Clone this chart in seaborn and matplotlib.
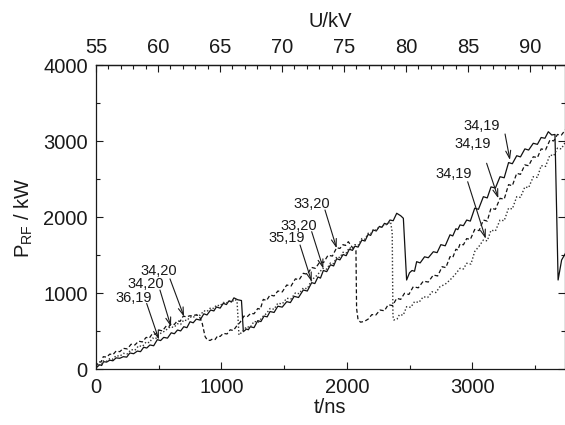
import numpy as np
import pandas as pd
import matplotlib
matplotlib.use("Agg")
import matplotlib.pyplot as plt
from matplotlib.ticker import MultipleLocator
import seaborn as sns

# ---------------- data, (t in ns, P in kW) ----------------
solid = [(0, 20), (30, 60), (45, 50), (60, 100), (85, 95), (110, 120), (135, 112), (160, 150),
         (190, 145), (218, 166), (245, 160), (270, 215), (300, 205), (330, 240), (355, 232),
         (380, 290), (405, 280), (430, 320), (460, 310), (489, 390), (515, 378), (540, 420),
         (570, 410), (600, 480), (625, 468), (650, 517), (675, 505), (700, 560), (725, 548),
         (750, 626), (775, 612), (800, 660), (830, 648), (860, 730), (885, 715), (914, 780),
         (940, 768), (960, 820), (990, 805), (1015, 868), (1040, 852), (1060, 900), (1080, 885),
         (1100, 940), (1130, 915), (1160, 905), (1175, 495), (1200, 530), (1215, 520),
         (1230, 560), (1260, 548), (1290, 640), (1315, 628), (1340, 700), (1365, 690),
         (1388, 760), (1420, 748), (1450, 830), (1485, 818), (1521, 890), (1550, 878),
         (1580, 960), (1615, 945), (1653, 1043), (1685, 1030), (1720, 1140), (1745, 1128),
         (1770, 1215), (1790, 1200), (1813, 1300), (1840, 1285), (1870, 1375), (1895, 1360),
         (1919, 1455), (1945, 1440), (1970, 1510), (1995, 1495), (2020, 1580), (2045, 1565),
         (2065, 1620), (2090, 1608), (2120, 1700), (2145, 1688), (2170, 1775), (2190, 1762),
         (2211, 1833), (2235, 1820), (2260, 1880), (2280, 1868), (2300, 1920), (2322, 1908),
         (2344, 1964), (2370, 1955), (2398, 2053), (2430, 2020), (2451, 1987), (2477, 1175),
         (2500, 1270), (2520, 1300), (2540, 1290), (2557, 1416), (2585, 1400), (2620, 1480),
         (2650, 1468), (2690, 1547), (2720, 1535), (2750, 1640), (2785, 1625), (2823, 1770),
         (2845, 1755), (2870, 1850), (2885, 1838), (2903, 1900), (2930, 1890), (2956, 1964),
         (2985, 1950), (3020, 2120), (3050, 2105), (3089, 2271), (3120, 2255), (3150, 2400),
         (3185, 2385), (3222, 2534), (3255, 2520), (3290, 2720), (3320, 2705), (3355, 2810),
         (3385, 2795), (3420, 2900), (3450, 2885), (3487, 2974), (3520, 2960), (3550, 3050),
         (3580, 3040), (3607, 3126), (3634, 3083), (3660, 3090), (3685, 1175), (3713, 1438),
         (3745, 1530)]

dashed = [(0, 30), (20, 100), (40, 95), (58, 166), (85, 160), (110, 200), (135, 192), (160, 240),
          (190, 232), (218, 276), (250, 268), (280, 330), (310, 320), (340, 370), (370, 360),
          (400, 420), (425, 410), (450, 470), (475, 460), (502, 517), (530, 505), (560, 570),
          (580, 560), (600, 600), (625, 590), (649, 640), (670, 630), (696, 700), (720, 690),
          (750, 705), (770, 700), (790, 714), (820, 710), (845, 620), (870, 430), (888, 385),
          (910, 380), (930, 400), (950, 392), (970, 440), (990, 432), (1015, 473), (1045, 465),
          (1070, 520), (1095, 510), (1122, 570), (1150, 620), (1180, 700), (1205, 690),
          (1234, 737), (1260, 730), (1290, 800), (1310, 790), (1334, 920), (1360, 905),
          (1388, 978), (1420, 965), (1450, 1030), (1485, 1018), (1521, 1109), (1555, 1095),
          (1590, 1190), (1620, 1178), (1653, 1263), (1685, 1250), (1720, 1340), (1750, 1328),
          (1786, 1416), (1815, 1405), (1850, 1500), (1885, 1490), (1919, 1600), (1945, 1590),
          (1970, 1640), (1990, 1630), (2012, 1679), (2050, 1590), (2073, 1560), (2078, 800),
          (2090, 650), (2110, 620), (2140, 630), (2170, 660), (2200, 720), (2230, 712),
          (2265, 780), (2300, 770), (2330, 850), (2365, 838), (2398, 934), (2430, 920),
          (2460, 1000), (2495, 985), (2530, 1087), (2570, 1072), (2610, 1160), (2650, 1148),
          (2690, 1241), (2725, 1228), (2760, 1350), (2790, 1338), (2823, 1482), (2845, 1470),
          (2870, 1580), (2885, 1568), (2903, 1650), (2930, 1638), (2956, 1720), (2985, 1708),
          (3020, 1840), (3055, 1825), (3089, 1964), (3120, 1950), (3150, 2120), (3185, 2105),
          (3222, 2250), (3255, 2238), (3290, 2430), (3320, 2415), (3355, 2579), (3385, 2565),
          (3420, 2690), (3450, 2678), (3487, 2797), (3520, 2785), (3550, 2900), (3585, 2888),
          (3620, 3017), (3650, 3005), (3680, 3090), (3710, 3080), (3745, 3155)]

dotted = [(0, 20), (30, 70), (45, 65), (58, 110), (85, 105), (110, 140), (135, 133), (160, 180),
          (190, 172), (218, 210), (250, 202), (280, 260), (310, 250), (340, 310), (370, 300),
          (400, 360), (425, 350), (450, 410), (475, 400), (500, 460), (545, 500), (593, 561),
          (620, 550), (650, 600), (675, 590), (700, 650), (725, 640), (750, 690), (775, 680),
          (800, 720), (830, 710), (860, 770), (885, 760), (914, 810), (940, 800), (960, 845),
          (990, 835), (1015, 880), (1040, 870), (1060, 900), (1085, 892), (1110, 920),
          (1125, 890), (1140, 451), (1170, 500), (1201, 561), (1230, 552), (1260, 630),
          (1295, 620), (1334, 700), (1360, 735), (1388, 800), (1420, 790), (1450, 870),
          (1485, 860), (1521, 935), (1555, 925), (1590, 1005), (1620, 995), (1653, 1070),
          (1685, 1060), (1720, 1175), (1765, 1240), (1808, 1329), (1840, 1318), (1870, 1400),
          (1895, 1390), (1919, 1480), (1945, 1470), (1970, 1540), (1995, 1530), (2020, 1600),
          (2045, 1590), (2065, 1640), (2090, 1630), (2120, 1720), (2145, 1710), (2170, 1790),
          (2190, 1780), (2211, 1840), (2235, 1830), (2260, 1880), (2280, 1872), (2300, 1910),
          (2322, 1902), (2344, 1942), (2350, 1930), (2362, 1800), (2368, 700), (2375, 649),
          (2400, 660), (2420, 720), (2450, 712), (2477, 824), (2510, 815), (2540, 890),
          (2575, 880), (2610, 955), (2645, 945), (2680, 1020), (2710, 1010), (2743, 1087),
          (2785, 1120), (2823, 1175), (2860, 1240), (2903, 1329), (2930, 1320), (2956, 1395),
          (2990, 1385), (3020, 1550), (3055, 1620), (3089, 1701), (3120, 1690), (3150, 1830),
          (3185, 1820), (3222, 1964), (3255, 1955), (3290, 2120), (3320, 2110), (3355, 2271),
          (3385, 2262), (3420, 2400), (3450, 2390), (3487, 2534), (3520, 2525), (3550, 2680),
          (3585, 2670), (3620, 2820), (3650, 2810), (3680, 2910), (3710, 2900), (3745, 2995)]

ann_labels = ["34,19", "34,19", "34,19", "33,20", "33,20", "35,19", "34,20", "34,20", "36,19"]

x_ticks = [0, 1000, 2000, 3000]
y_ticks = [0, 1000, 2000, 3000, 4000]
u_ticks = [55, 60, 65, 70, 75, 80, 85, 90]

# ---------------- layout / style ----------------
sns.set_style("ticks")
plt.rcParams["font.family"] = ["Liberation Sans", "DejaVu Sans"]
INK = "#1a1a1a"
plt.rcParams["text.color"] = INK
plt.rcParams["axes.labelcolor"] = INK
plt.rcParams["xtick.color"] = INK
plt.rcParams["ytick.color"] = INK

fig = plt.figure(figsize=(5.65, 4.25), dpi=100)
ax = fig.add_axes([96 / 565, 1 - 369.3 / 425, 1 - 96 / 565, (369.3 - 65.3) / 425])

styles = [(solid, "-", 0.9, "#111111"),
          (dashed, (0, (3.2, 2.0)), 0.9, "#111111"),
          (dotted, (0, (1.0, 1.5)), 1.0, "#333333")]
for series, ls, lw, col in styles:
    df = pd.DataFrame(series, columns=["t", "P"])
    sns.lineplot(data=df, x="t", y="P", ax=ax, color=col, lw=lw, linestyle=ls,
                 sort=False, estimator=None)

ax.set_xlim(0, 3740)
ax.set_ylim(0, 4000)

# annotations (text centre, arrow start, arrow tip) in data coords
ann_text = [(3073, 3204), (3005, 2959), (2855, 2566), (1720, 2175), (1621, 1890),
            (1521, 1724), (497, 1290), (399, 1122), (303, 941)]
ann_start = [(3262, 3096), (3115, 2711), (2964, 2468), (1826, 2096), (1720, 1811),
             (1627, 1636), (590, 1190), (510, 1043), (404, 866)]
ann_tip = [(3301, 2754), (3208, 2250), (3108, 1717), (1919, 1593), (1813, 1325),
           (1720, 1153), (702, 693), (598, 561), (502, 390)]
for lab, tp, st, tip in zip(ann_labels, ann_text, ann_start, ann_tip):
    ax.text(tp[0], tp[1], lab, fontsize=10.5, ha="center", va="center", color=INK)
    ax.annotate("", xy=tip, xytext=st,
                arrowprops=dict(arrowstyle="->,head_length=0.55,head_width=0.18",
                                lw=0.8, color=INK, shrinkA=0, shrinkB=0))

ax.set_xticks(x_ticks)
ax.set_yticks(y_ticks)
ax.xaxis.set_minor_locator(MultipleLocator(500))
ax.yaxis.set_minor_locator(MultipleLocator(500))
ax.tick_params(axis="both", which="both", direction="in", labelsize=14.5,
               top=False, right=True, width=0.8)
ax.tick_params(which="major", length=5)
ax.tick_params(which="minor", length=3)
ax.tick_params(axis="x", pad=6)
ax.tick_params(axis="y", pad=6)

ax.set_xlabel("t/ns", fontsize=14.5, labelpad=1)
ax.set_ylabel("P$_\\mathregular{RF}$ / kW", fontsize=14.5, labelpad=6)

for s in ax.spines.values():
    s.set_linewidth(0.9)
    s.set_color(INK)

NS_PER_KV = 98.9
secax = ax.secondary_xaxis("top", functions=(lambda t: 55 + np.asarray(t) / NS_PER_KV,
                                             lambda u: (np.asarray(u) - 55) * NS_PER_KV))
secax.set_xticks(u_ticks)
secax.xaxis.set_minor_locator(MultipleLocator(1))
secax.tick_params(axis="x", which="both", direction="in", labelsize=14.5, width=0.8, pad=6)
secax.tick_params(which="major", length=5)
secax.tick_params(which="minor", length=3)
secax.set_xlabel("U/kV", fontsize=14.5, labelpad=8)
secax.spines["top"].set_linewidth(0.9)

fig.savefig("out.png", dpi=100)
